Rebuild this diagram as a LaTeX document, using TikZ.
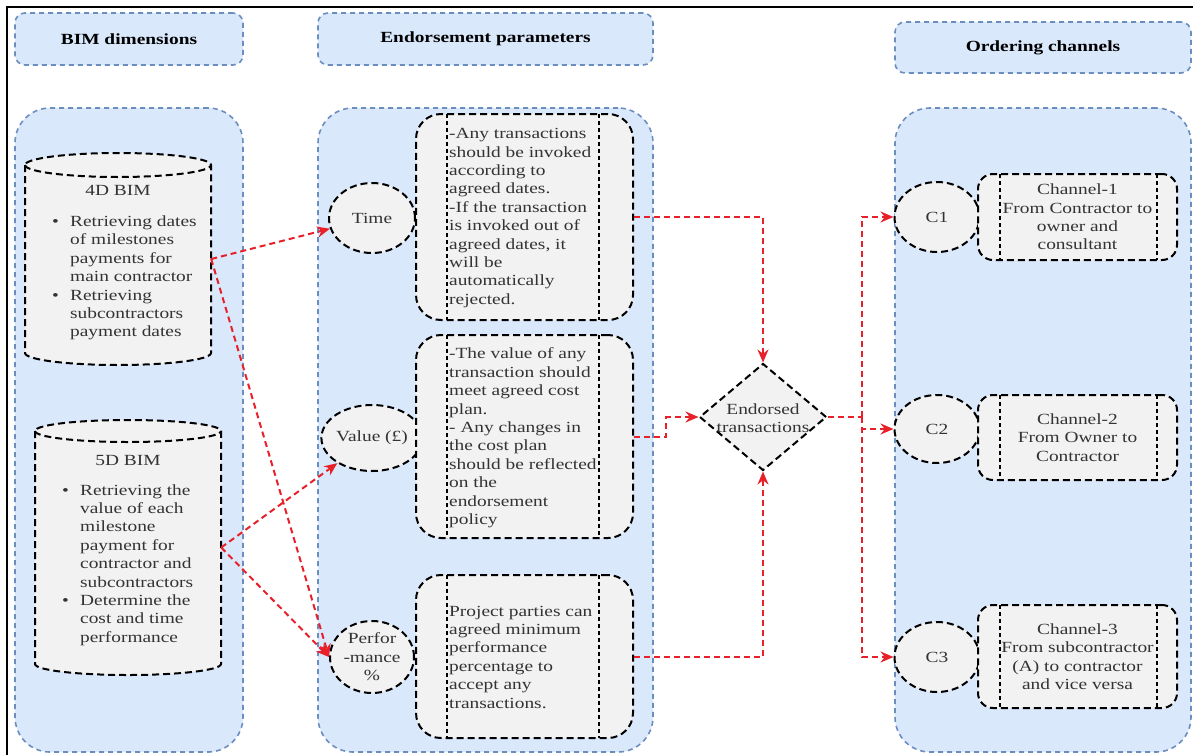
\documentclass[tikz,border=0pt]{standalone}
\usepackage{fontspec}
\setmainfont{Liberation Serif}[FakeStretch=1.25]
\usetikzlibrary{shapes.geometric,arrows.meta}

\definecolor{panelfill}{HTML}{DAE8FC}
\definecolor{panelline}{HTML}{6C8EBF}
\definecolor{shapefill}{HTML}{F2F2F2}
\definecolor{flowred}{HTML}{E8202A}
\definecolor{bodytext}{HTML}{333333}

% bullet marker and hanging indent for the BIM lists
\newcommand\bulletbox{\makebox[18pt][l]{\textbullet}}
\newcommand\bulletgap{\hspace*{18pt}}

\begin{document}
\begin{tikzpicture}[x=1pt,y=-1pt,
  every node/.style={font=\fontsize{15.5}{18.4}\selectfont, text=bodytext},
  panel/.style={draw=panelline, fill=panelfill, line width=1.6pt,
    dash pattern=on 5pt off 4pt, rounded corners=35pt, inner sep=0pt},
  header/.style={draw=panelline, fill=panelfill, line width=1.6pt,
    dash pattern=on 5pt off 4pt, rounded corners=10pt, inner sep=0pt,
    font=\fontsize{15.5}{18.4}\selectfont\bfseries, text=black},
  blk/.style={draw=black, line width=2pt, dash pattern=on 7pt off 4pt},
  inner/.style={draw=black, line width=2pt, dash pattern=on 4pt off 3pt},
  round/.style={blk, fill=shapefill, ellipse, inner sep=0pt, align=center},
  procbox/.style 2 args={blk, fill=shapefill, rectangle, inner sep=0pt, align=center,
    path picture={
      \draw[inner] ([xshift=#1]path picture bounding box.north west) --
                   ([xshift=#1]path picture bounding box.south west);
      \draw[inner] ([xshift=-#2]path picture bounding box.north east) --
                   ([xshift=-#2]path picture bounding box.south east);}},
  txt/.style={inner sep=0pt, align=left},
  flow/.style={draw=flowred, line width=2pt, dash pattern=on 6pt off 4pt},
  arr/.style={flow, -{Stealth[length=13pt,width=11pt]}}
]
\useasboundingbox (0,0) rectangle (1193,755);

% outer frame
\draw[line width=1.6pt] (7,755) -- (7,7) -- (1193,7);

% column headers
\node[header, minimum width=228pt, minimum height=52pt] (hbim) at (129,39) {BIM dimensions};
\node[header, minimum width=335pt, minimum height=52pt] (hend) at (485.5,39) {Endorsement parameters};
\node[header, minimum width=296pt, minimum height=51pt] (hord) at (1043,47.5) {Ordering channels};

% column panels
\node[panel, minimum width=228pt, minimum height=644pt] (pbim) at (129,430) {};
\node[panel, minimum width=335pt, minimum height=644pt] (pend) at (485.5,430) {};
\node[panel, minimum width=296pt, minimum height=644pt] (pord) at (1043,430) {};

% 4D BIM cylinder (body with back rim, then front rim of the lid)
\draw[blk, fill=shapefill] (25,165) -- (25,353)
  .. controls (25,359.6) and (66.6,365) .. (118,365)
  .. controls (169.4,365) and (211,359.6) .. (211,353) -- (211,165)
  .. controls (211,158.4) and (169.4,153) .. (118,153)
  .. controls (66.6,153) and (25,158.4) .. (25,165) -- cycle;
\draw[blk] (25,165) .. controls (25,171.6) and (66.6,177) .. (118,177)
  .. controls (169.4,177) and (211,171.6) .. (211,165);
\node[minimum width=186pt, minimum height=212pt, inner sep=0pt] (cyl4) at (118,259) {};
\node (t4) at (118,190) {4D BIM};
\node[txt, anchor=west] (l4) at (52,278) {%
  \bulletbox Retrieving dates\\ \bulletgap of milestones\\ \bulletgap payments for\\
  \bulletgap main contractor\\ \bulletbox Retrieving\\ \bulletgap subcontractors\\
  \bulletgap payment dates};

% 5D BIM cylinder
\draw[blk, fill=shapefill] (35,431) -- (35,664)
  .. controls (35,670.1) and (76.6,675) .. (128,675)
  .. controls (179.4,675) and (221,670.1) .. (221,664) -- (221,431)
  .. controls (221,424.9) and (179.4,420) .. (128,420)
  .. controls (76.6,420) and (35,424.9) .. (35,431) -- cycle;
\draw[blk] (35,431) .. controls (35,437.1) and (76.6,442) .. (128,442)
  .. controls (179.4,442) and (221,437.1) .. (221,431);
\node[minimum width=186pt, minimum height=255pt, inner sep=0pt] (cyl5) at (128,547.5) {};
\node (t5) at (128,460) {5D BIM};
\node[txt, anchor=west] (l5) at (62,565) {%
  \bulletbox Retrieving the\\ \bulletgap value of each\\ \bulletgap milestone\\
  \bulletgap payment for\\ \bulletgap contractor and\\ \bulletgap subcontractors\\
  \bulletbox Determine the\\ \bulletgap cost and time\\ \bulletgap performance};

% endorsement parameters
\node[round, minimum width=86pt, minimum height=70pt] (time) at (372,218) {Time};
\node[round, minimum width=84pt, minimum height=66pt] (value) at (372,438) {Value (£)};
\node[round, minimum width=84pt, minimum height=72pt] (perf) at (372,657) {Perfor\\-mance\\\%};

\node[procbox={31pt}{34pt}, rounded corners=25pt, minimum width=217pt, minimum height=206pt] (tbox) at (524.5,217) {};
\node[procbox={31pt}{34pt}, rounded corners=25pt, minimum width=217pt, minimum height=203pt] (vbox) at (524.5,436.5) {};
\node[procbox={31pt}{34pt}, rounded corners=25pt, minimum width=217pt, minimum height=163pt] (pbox) at (524.5,656.5) {};

\node[txt, anchor=west] (ttext) at (449,218) {%
  -Any transactions\\ should be invoked\\ according to\\ agreed dates.\\
  -If the transaction\\ is invoked out of\\ agreed dates, it\\ will be\\
  automatically\\ rejected.};
\node[txt, anchor=west] (vtext) at (449,438) {%
  -The value of any\\ transaction should\\ meet agreed cost\\ plan.\\
  - Any changes in\\ the cost plan\\ should be reflected\\ on the\\
  endorsement\\ policy};
\node[txt, anchor=west] (ptext) at (449,657) {%
  Project parties can\\ agreed minimum\\ performance\\ percentage to\\
  accept any\\ transactions.};

% decision
\node[blk, fill=shapefill, diamond, aspect=1.19, inner sep=0pt,
  minimum width=127pt, minimum height=107pt] (diam) at (763,417) {};
\node[align=center, inner sep=0pt] (dtext) at (763,418) {Endorsed\\transactions};

% ordering channels
\node[round, minimum width=85pt, minimum height=70pt] (c1) at (937,217) {C1};
\node[round, minimum width=85pt, minimum height=68pt] (c2) at (937,429) {C2};
\node[round, minimum width=85pt, minimum height=70pt] (c3) at (937,657) {C3};

\node[procbox={22pt}{20pt}, rounded corners=15pt, minimum width=199pt, minimum height=86pt] (ch1) at (1077.5,217)
  {Channel-1\\From Contractor to\\owner and\\consultant};
\node[procbox={22pt}{20pt}, rounded corners=15pt, minimum width=199pt, minimum height=85pt] (ch2) at (1077.5,437.5)
  {Channel-2\\From Owner to\\Contractor};
\node[procbox={22pt}{20pt}, rounded corners=15pt, minimum width=199pt, minimum height=103pt] (ch3) at (1077.5,656.5)
  {Channel-3\\From subcontractor\\(A) to contractor\\and vice versa};

% connectors
\draw[arr] (cyl4.east) -- (time);
\draw[arr] (cyl4.east) -- (perf.west);
\draw[arr] (cyl5.east) -- (value);
\draw[arr] (cyl5.east) -- (perf.west);

\draw[arr] (tbox.east) -| (diam.north);
\draw[arr] (vbox.east) -- ++(32,0) |- (diam.west);
\draw[arr] (pbox.east) -| (diam.south);

\coordinate (jn) at (862,417);
\draw[flow] (diam.east) -- (jn);
\draw[arr] (jn) |- (c1.west);
\draw[arr] (jn) |- (c2.west);
\draw[arr] (jn) |- (c3.west);
\end{tikzpicture}
\end{document}
